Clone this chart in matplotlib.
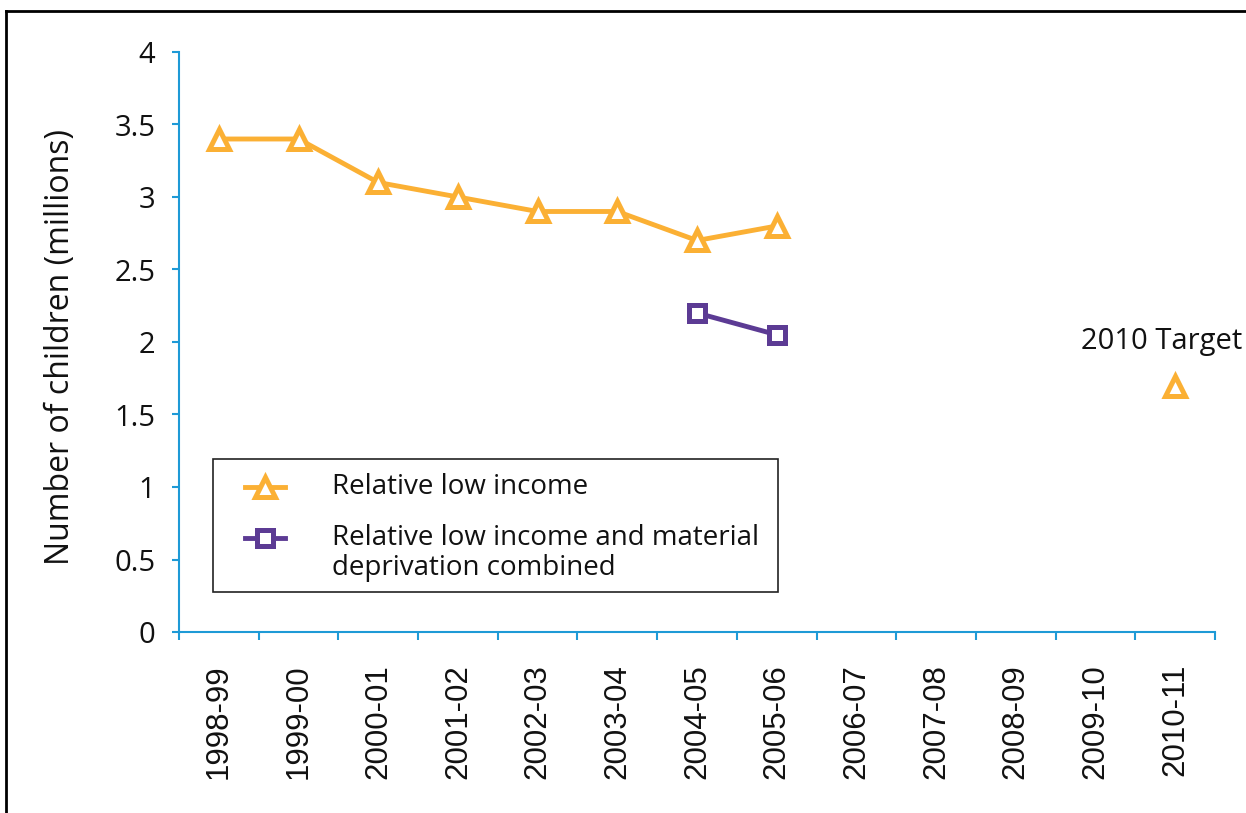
import matplotlib
matplotlib.use("Agg")
import matplotlib.pyplot as plt
from matplotlib.lines import Line2D
from matplotlib.patches import Rectangle
from matplotlib.ticker import FixedLocator, FuncFormatter

# Financial years on the x axis
years = ["1998-99", "1999-00", "2000-01", "2001-02", "2002-03", "2003-04",
         "2004-05", "2005-06", "2006-07", "2007-08", "2008-09", "2009-10",
         "2010-11"]

# Children in relative low income (millions)
low_income_years = ["1998-99", "1999-00", "2000-01", "2001-02", "2002-03",
                    "2003-04", "2004-05", "2005-06"]
low_income = [3.4, 3.4, 3.1, 3.0, 2.9, 2.9, 2.7, 2.8]

# Relative low income and material deprivation combined (millions)
combined_years = ["2004-05", "2005-06"]
combined = [2.2, 2.05]

# 2010 target
target_year = "2010-11"
target_value = 1.7

series_labels = ["Relative low income",
                 "Relative low income and material\ndeprivation combined"]

ORANGE = "#FBB034"
PURPLE = "#5C3B94"
AXIS_BLUE = "#1E9AD6"
TEXT = "#111111"
MAIN_FONT = ["Open Sans", "DejaVu Sans"]
CAT_FONT = ["Liberation Sans", "DejaVu Sans"]

tri_style = dict(marker="^", ms=14, mfc="white", mec=ORANGE, mew=3.6)
sq_style = dict(marker="s", ms=11, mfc="white", mec=PURPLE, mew=3.6)

W, H = 1246, 813
fig = plt.figure(figsize=(W / 100, H / 100), dpi=100)
ax = fig.add_axes([179 / W, 1 - 632 / H, (1215 - 179) / W, (632 - 52) / H])

pos = {y: i for i, y in enumerate(years)}

ax.plot([pos[y] for y in low_income_years], low_income, color=ORANGE, lw=3.5,
        zorder=3, **tri_style)
ax.plot([pos[y] for y in combined_years], combined, color=PURPLE, lw=3.5,
        zorder=3, **sq_style)
ax.plot([pos[target_year]], [target_value], linestyle="none", zorder=3,
        **tri_style)
ax.annotate("2010 Target", xy=(pos[target_year], target_value),
            xytext=(-10, 32), textcoords="offset points",
            ha="center", va="center", fontsize=21, family=MAIN_FONT,
            color=TEXT)

ax.set_xlim(-0.5, len(years) - 0.5)
ax.set_ylim(0, 4)

# Category labels at centres, tick marks at boundaries
ax.set_xticks(range(len(years)))
ax.set_xticklabels(years, rotation=90, fontsize=22.5, family=CAT_FONT,
                   color=TEXT)
ax.xaxis.set_minor_locator(FixedLocator([i - 0.5 for i in range(len(years) + 1)]))
ax.tick_params(axis="x", which="major", length=0, pad=23)
ax.tick_params(axis="x", which="minor", length=6, width=1.5, color=AXIS_BLUE,
               direction="out")

ax.set_yticks([i * 0.5 for i in range(9)])
ax.yaxis.set_major_formatter(FuncFormatter(lambda v, p: f"{v:g}"))
ax.tick_params(axis="y", length=5, width=1.5, color=AXIS_BLUE, pad=12,
               labelsize=21, labelcolor=TEXT)
for lab in ax.get_yticklabels():
    lab.set_family(MAIN_FONT)

ax.set_ylabel("Number of children (millions)", fontsize=23, family=MAIN_FONT,
              color=TEXT)
ax.yaxis.set_label_coords((77 - 179) / 1036, (632 - 347) / 580)

for side in ("top", "right"):
    ax.spines[side].set_visible(False)
for side in ("left", "bottom"):
    ax.spines[side].set_color(AXIS_BLUE)
    ax.spines[side].set_linewidth(1.5)

# Legend box drawn in figure pixel space
def fx(px):
    return px / W

def fy(py):
    return 1 - py / H

fig.add_artist(Rectangle((fx(213), fy(592)), fx(778) - fx(213), fy(459) - fy(592),
                         transform=fig.transFigure, fill=True, facecolor="white",
                         edgecolor="#222222", lw=1.2, zorder=5))
legend_rows = [(487, ORANGE, tri_style, series_labels[0], 487),
               (538, PURPLE, sq_style, series_labels[1], 553)]
for y_handle, col, style, text, y_text in legend_rows:
    fig.add_artist(Line2D([fx(245), fx(285)], [fy(y_handle)] * 2, color=col,
                          lw=3.5, transform=fig.transFigure, zorder=6))
    fig.add_artist(Line2D([fx(265)], [fy(y_handle)], linestyle="none",
                          transform=fig.transFigure, zorder=7, **style))
    fig.text(fx(332), fy(y_text), text, ha="left", va="center", fontsize=20,
             family=MAIN_FONT, color=TEXT, linespacing=1.05, zorder=7)

# Outer frame (left and top edges)
fig.add_artist(Line2D([fx(6), fx(6)], [0, fy(11)], color="black", lw=2,
                      transform=fig.transFigure))
fig.add_artist(Line2D([fx(6), 1], [fy(11), fy(11)], color="black", lw=2,
                      transform=fig.transFigure))

fig.savefig("out.png", dpi=100)
